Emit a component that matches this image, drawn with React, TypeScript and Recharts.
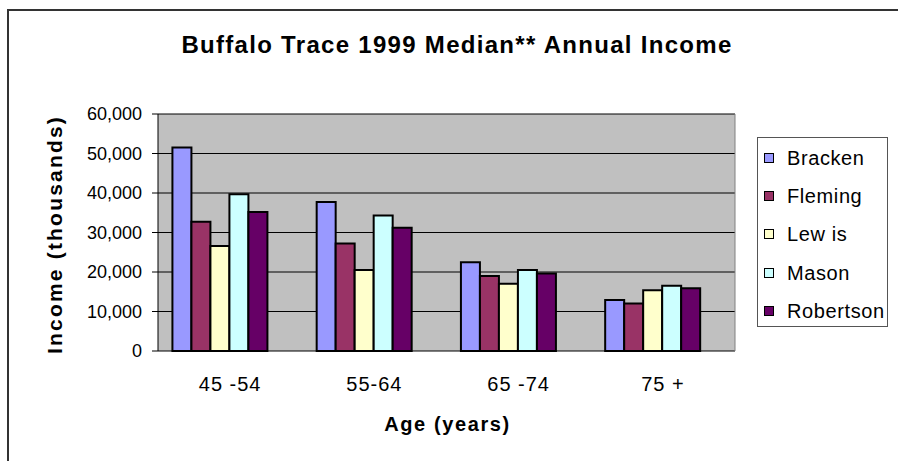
import React from 'react';
import { BarChart, Bar, XAxis, YAxis, CartesianGrid, ReferenceLine, Label } from 'recharts';

const categories = ['45 -54', '55-64', '65 -74', '75 +'];
const bracken = [51500, 37700, 22500, 12900];
const fleming = [32700, 27200, 19000, 12000];
const lewis = [26600, 20500, 17000, 15400];
const mason = [39700, 34300, 20500, 16500];
const robertson = [35200, 31200, 19600, 15900];
const seriesNames = ['Bracken', 'Fleming', 'Lew is', 'Mason', 'Robertson'];
const seriesKeys = ['bracken', 'fleming', 'lewis', 'mason', 'robertson'];
const seriesColors = ['#9999FF', '#993366', '#FFFFCC', '#CCFFFF', '#660066'];
const yTicks = [0, 10000, 20000, 30000, 40000, 50000, 60000];
const edgeTicks = [0, 1, 2, 3, 4];
const title = 'Buffalo Trace 1999 Median** Annual Income';
const xTitle = 'Age (years)';
const yTitle = 'Income (thousands)';

const data = categories.map((c, i) => ({
  cat: c,
  bracken: bracken[i],
  fleming: fleming[i],
  lewis: lewis[i],
  mason: mason[i],
  robertson: robertson[i],
}));

const FONT = '"Liberation Sans", Arial, sans-serif';

const fmt = (v: number) => v.toLocaleString('en-US');

export default function App() {
  return (
    <div style={{ position: 'absolute', left: 0, top: 0, width: 898, height: 461, background: '#fff', fontFamily: FONT, overflow: 'hidden' }}>
      <div style={{ position: 'absolute', left: 7, top: 9, width: 900, height: 460, borderLeft: '2px solid #333', borderTop: '2px solid #333' }} />
      <div style={{ position: 'absolute', left: 12, width: 890, top: 31, textAlign: 'center', fontWeight: 'bold', fontSize: 24, letterSpacing: 1.3, lineHeight: '28px', color: '#000' }}>
        {title}
      </div>
      <div style={{ position: 'absolute', left: 0, top: 0 }}>
        <BarChart
          width={898}
          height={461}
          data={data}
          margin={{ top: 114, right: 163, bottom: 80, left: 0 }}
          barCategoryGap="10%"
          barGap={0}
        >
          <CartesianGrid vertical={false} fill="#C0C0C0" fillOpacity={1} stroke="#000" horizontalValues={yTicks} />
          <XAxis
            xAxisId="edge"
            type="number"
            dataKey="none"
            domain={[0, 4]}
            ticks={edgeTicks}
            height={0}
            tickSize={6}
            tick={() => null}
            stroke="#000"
            axisLine={{ stroke: '#000' }}
            tickLine={{ stroke: '#000' }}
            allowDataOverflow
          />
          <XAxis
            dataKey="cat"
            height={30}
            axisLine={false}
            tickLine={false}
            tickSize={0}
            tickMargin={26}
            interval={0}
            tick={{ fill: '#000', fontSize: 20, fontFamily: FONT, letterSpacing: 1 }}
          >
            <Label
              content={(props: any) => {
                const vb = props.viewBox || {};
                return (
                  <text x={vb.x + vb.width / 2 + 1} y={431} textAnchor="middle" fontWeight="bold" fontSize={20} letterSpacing={1.6} fontFamily={FONT} fill="#000">
                    {xTitle}
                  </text>
                );
              }}
            />
          </XAxis>
          <YAxis
            width={158}
            domain={[0, 60000]}
            ticks={yTicks}
            interval={0}
            tickFormatter={fmt}
            tickSize={6}
            tickMargin={10}
            axisLine={{ stroke: '#000' }}
            tickLine={{ stroke: '#000' }}
            tick={{ fill: '#000', fontSize: 18, fontFamily: FONT }}
          >
            <Label
              content={(props: any) => {
                const vb = props.viewBox || {};
                const cx = 54;
                const cy = vb.y + vb.height / 2 + 2;
                return (
                  <text x={cx} y={cy} transform={`rotate(-90 ${cx} ${cy})`} textAnchor="middle" dominantBaseline="central" fontWeight="bold" fontSize={21} letterSpacing={2.2} fontFamily={FONT} fill="#000">
                    {yTitle}
                  </text>
                );
              }}
            />
          </YAxis>
          <ReferenceLine xAxisId="edge" x={4} stroke="#808080" strokeWidth={1} />
          {seriesKeys.map((k, i) => (
            <Bar key={k} dataKey={k} name={seriesNames[i]} fill={seriesColors[i]} stroke="#000" strokeWidth={2} isAnimationActive={false} />
          ))}
          <Bar dataKey="blank" legendType="none" fill="none" isAnimationActive={false} />
        </BarChart>
      </div>
      <div style={{ position: 'absolute', left: 757, top: 137, width: 131, height: 190, border: '1px solid #555', boxSizing: 'border-box', background: '#fff' }}>
        {seriesNames.map((n, i) => (
          <div key={n} style={{ position: 'absolute', left: 6, top: 20 + i * 38.2 - 12, height: 24, display: 'flex', alignItems: 'center', whiteSpace: 'nowrap' }}>
            <span style={{ display: 'inline-block', width: 8, height: 8, background: seriesColors[i], border: '1px solid #000', marginRight: 13 }} />
            <span style={{ fontSize: 20, letterSpacing: 0.6, color: '#000', lineHeight: '24px' }}>{n}</span>
          </div>
        ))}
      </div>
    </div>
  );
}
